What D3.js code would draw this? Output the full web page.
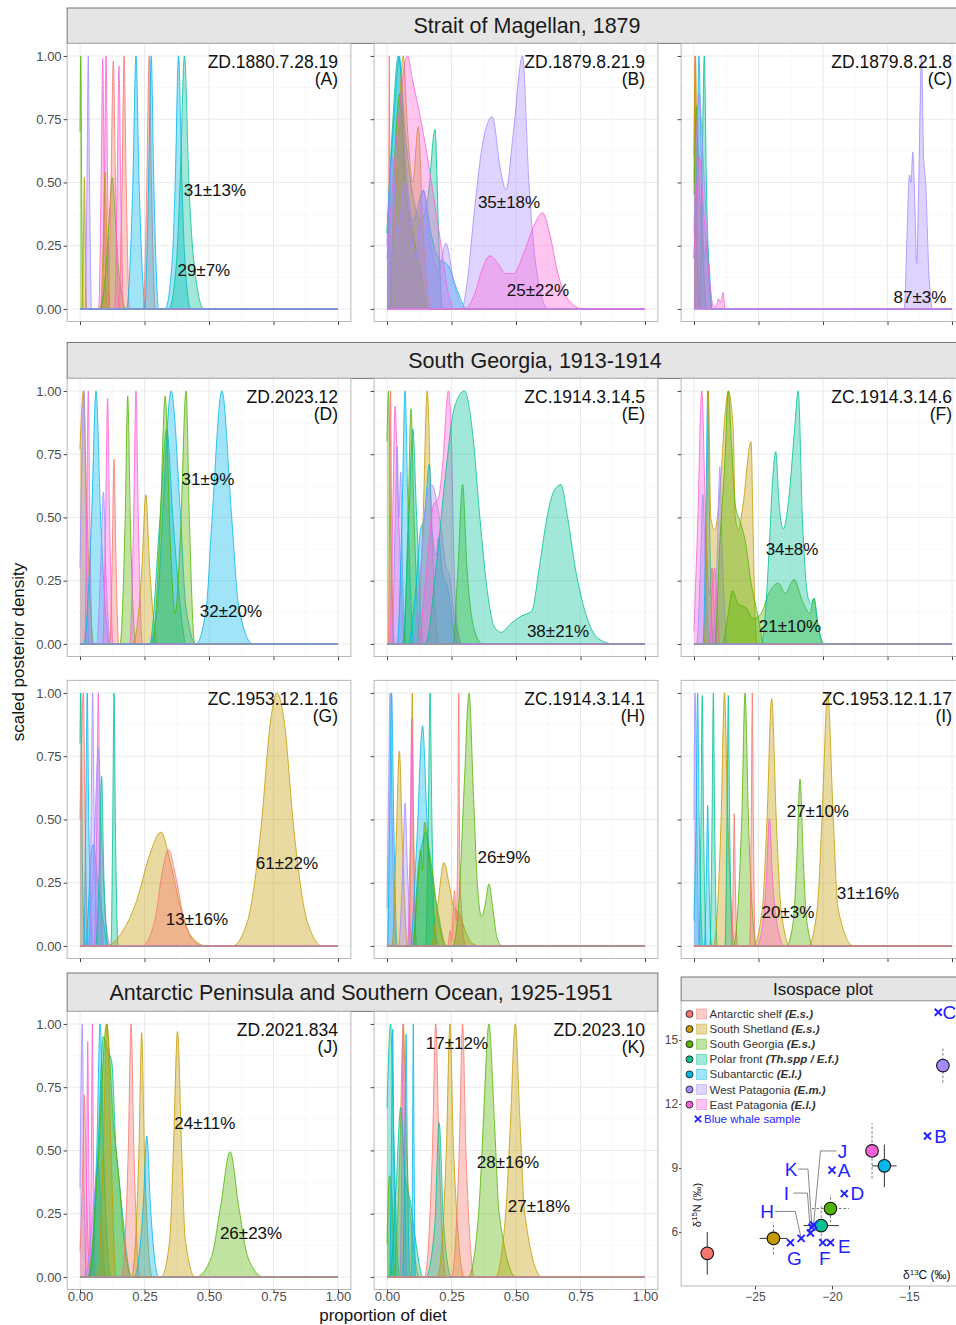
<!DOCTYPE html>
<html><head><meta charset="utf-8">
<script src="https://cdn.jsdelivr.net/npm/d3@7"></script>
<style>body{margin:0;background:#fff;} svg{display:block;font-family:"Liberation Sans",Arial,sans-serif;}</style>
</head><body><svg id="c" width="956" height="1325"></svg>
<script>
// ---------- DATA ----------
const sources = ["Antarctic shelf","South Shetland","South Georgia","Polar front","Subantarctic","West Patagonia","East Patagonia"];
const sourceAbbr = ["(E.s.)","(E.s.)","(E.s.)","(Th.spp / E.f.)","(E.l.)","(E.m.)","(E.l.)"];
const colors = ["#F8766D","#C49A00","#53B400","#00C094","#00B6EB","#A58AFF","#FB61D7"];
const propTicks = [0,0.25,0.5,0.75,1];
const propTickLabels = ["0.00","0.25","0.50","0.75","1.00"];
const groupTitles = ["Strait of Magellan, 1879","South Georgia, 1913-1914","Antarctic Peninsula and Southern Ocean, 1925-1951"];
const panelIds = ["ZD.1880.7.28.19","ZD.1879.8.21.9","ZD.1879.8.21.8","ZD.2023.12","ZC.1914.3.14.5","ZC.1914.3.14.6","ZC.1953.12.1.16","ZC.1914.3.14.1","ZC.1953.12.1.17","ZD.2021.834","ZD.2023.10"];
const panelLetters = ["A","B","C","D","E","F","G","H","I","J","K"];

// density curves: [source index, [[proportion, scaled density], ...]]
const densA = [
 [2,[[0,0.7],[0.003,1],[0.007,0.4],[0.012,0]]],
 [1,[[0.008,0],[0.013,0.25],[0.017,0.52],[0.021,0.25],[0.026,0]]],
 [5,[[0.02,0],[0.027,0.5],[0.032,1],[0.037,0.5],[0.045,0]]],
 [6,[[0.072,0],[0.082,0.5],[0.088,0.99],[0.094,0.5],[0.104,0]]],
 [6,[[0.086,0],[0.095,0.5],[0.101,1],[0.107,0.5],[0.116,0]]],
 [1,[[0.08,0],[0.09,0.27],[0.097,0.54],[0.104,0.27],[0.114,0]]],
 [2,[[0.075,0],[0.1,0.15],[0.11,0.3],[0.125,0.52],[0.14,0.3],[0.15,0.15],[0.18,0]]],
 [0,[[0.108,0],[0.12,0.49],[0.129,0.98],[0.138,0.49],[0.152,0]]],
 [6,[[0.133,0],[0.144,0.48],[0.151,0.96],[0.158,0.48],[0.17,0]]],
 [0,[[0.15,0],[0.163,0.5],[0.171,1],[0.179,0.5],[0.192,0]]],
 [4,[[0.18,0],[0.205,0.5],[0.217,1],[0.229,0.5],[0.255,0]]],
 [0,[[0.245,0],[0.259,0.5],[0.268,1],[0.277,0.5],[0.292,0]]],
 [4,[[0.25,0],[0.266,0.5],[0.276,1],[0.286,0.5],[0.305,0]]],
 [4,[[0.33,0],[0.358,0.2],[0.369,0.5],[0.382,1],[0.395,0.5],[0.406,0.2],[0.43,0]]],
 [3,[[0.345,0],[0.375,0.2],[0.388,0.5],[0.405,1],[0.422,0.5],[0.44,0.2],[0.48,0]]]
];
const densB = [
 [0,[[0.003,0],[0.007,0.5],[0.009,1],[0.011,0.5],[0.015,0]]],
 [3,[[0,0.3],[0.02,0.7],[0.044,1],[0.07,0.7],[0.1,0.45],[0.13,0.35],[0.16,0.45],[0.186,0.71],[0.2,0.3],[0.215,0]]],
 [4,[[0,0.3],[0.03,0.8],[0.048,1],[0.07,0.6],[0.1,0.35],[0.141,0.47],[0.17,0.3],[0.2,0.2],[0.238,0.17],[0.27,0.08],[0.31,0]]],
 [1,[[0.01,0],[0.04,0.6],[0.063,1],[0.08,0.7],[0.1,0.5],[0.121,0.72],[0.14,0.3],[0.17,0]]],
 [2,[[0.01,0],[0.03,0.6],[0.05,0.85],[0.07,0.5],[0.1,0.3],[0.13,0.15],[0.16,0]]],
 [6,[[0,0.2],[0.04,0.7],[0.079,1],[0.1,0.9],[0.14,0.7],[0.18,0.45],[0.21,0.25],[0.24,0.05],[0.26,0]]],
 [5,[[0,0.25],[0.02,0.6],[0.04,0.3],[0.07,0.5],[0.09,0.35],[0.11,0.2],[0.14,0.47],[0.17,0.25],[0.2,0.15],[0.228,0.26],[0.26,0.1],[0.3,0]]],
 [5,[[0.29,0],[0.31,0.1],[0.34,0.4],[0.37,0.65],[0.408,0.76],[0.44,0.55],[0.461,0.47],[0.49,0.7],[0.525,1],[0.55,0.5],[0.58,0.15],[0.625,0]]],
 [6,[[0.3,0],[0.34,0.06],[0.37,0.16],[0.399,0.21],[0.43,0.18],[0.46,0.14],[0.49,0.14],[0.53,0.22],[0.57,0.33],[0.603,0.38],[0.63,0.3],[0.66,0.15],[0.7,0.04],[0.76,0]]]
];
const densC = [
 [0,[[0,0.5],[0.004,1],[0.01,0.3],[0.02,0]]],
 [1,[[0,0.6],[0.006,1],[0.014,0.3],[0.025,0]]],
 [2,[[0,0.45],[0.01,0.8],[0.02,0.5],[0.035,0.2],[0.05,0]]],
 [4,[[0,0.2],[0.012,0.6],[0.019,1],[0.028,0.6],[0.04,0.2],[0.05,0.27],[0.06,0.15],[0.07,0]]],
 [3,[[0.02,0],[0.032,0.6],[0.04,1],[0.048,0.5],[0.06,0.1],[0.07,0]]],
 [5,[[0,0.3],[0.02,0.85],[0.035,0.6],[0.05,0.3],[0.065,0]]],
 [6,[[0,0.2],[0.02,0.6],[0.04,0.35],[0.06,0.12],[0.075,0.01],[0.085,0.01],[0.095,0.04],[0.102,0.025],[0.113,0.065],[0.12,0]]],
 [5,[[0.815,0],[0.826,0.3],[0.835,0.53],[0.841,0.5],[0.848,0.62],[0.855,0.45],[0.863,0.18],[0.872,0.55],[0.882,1],[0.89,0.6],[0.898,0.5],[0.91,0.15],[0.925,0]]]
];
const densD = [
 [1,[[0,0.77],[0.013,1],[0.025,0.6],[0.04,0.15],[0.055,0]]],
 [5,[[0,0.3],[0.016,1],[0.025,0.4],[0.035,0]]],
 [6,[[0.018,0],[0.026,0.5],[0.032,1],[0.038,0.5],[0.048,0]]],
 [4,[[0.015,0],[0.045,0.5],[0.062,1],[0.08,0.5],[0.115,0]]],
 [5,[[0.065,0],[0.08,0.3],[0.091,0.6],[0.1,0.3],[0.118,0]]],
 [6,[[0.088,0],[0.099,0.48],[0.107,0.97],[0.115,0.48],[0.128,0]]],
 [0,[[0.115,0],[0.125,0.36],[0.132,0.73],[0.139,0.36],[0.15,0]]],
 [2,[[0.155,0],[0.175,0.49],[0.185,0.98],[0.195,0.49],[0.217,0]]],
 [6,[[0.193,0],[0.208,0.5],[0.217,1],[0.226,0.5],[0.242,0]]],
 [1,[[0.205,0],[0.24,0.3],[0.255,0.59],[0.27,0.3],[0.305,0]]],
 [3,[[0.27,0],[0.31,0.5],[0.336,0.85],[0.36,0.5],[0.4,0.05],[0.41,0]]],
 [4,[[0.27,0],[0.3,0.15],[0.32,0.5],[0.353,1],[0.39,0.5],[0.41,0.15],[0.45,0]]],
 [2,[[0.28,0],[0.31,0.45],[0.33,0.98],[0.35,0.4],[0.369,0.12],[0.39,0.45],[0.411,1],[0.425,0.45],[0.445,0]]],
 [4,[[0.45,0],[0.49,0.15],[0.512,0.5],[0.55,1],[0.588,0.5],[0.615,0.15],[0.67,0]]]
];
const densE = [
 [2,[[0,0.8],[0.006,1],[0.015,0.4],[0.03,0]]],
 [0,[[0.005,0],[0.01,0.5],[0.014,1],[0.018,0.5],[0.025,0]]],
 [6,[[0.01,0],[0.022,0.5],[0.031,0.94],[0.045,0.5],[0.07,0]]],
 [5,[[0.02,0],[0.03,0.4],[0.04,0.78],[0.046,0.5],[0.053,0.68],[0.06,0.3],[0.075,0]]],
 [4,[[0.04,0],[0.058,0.5],[0.07,1],[0.082,0.5],[0.105,0]]],
 [2,[[0.065,0],[0.082,0.5],[0.093,0.93],[0.105,0.5],[0.13,0]]],
 [3,[[0.06,0],[0.085,0.5],[0.1,0.85],[0.115,0.5],[0.14,0]]],
 [1,[[0.115,0],[0.14,0.5],[0.156,1],[0.172,0.5],[0.2,0]]],
 [4,[[0.08,0],[0.11,0.2],[0.13,0.45],[0.145,0.5],[0.164,0.71],[0.175,0.45],[0.19,0.35],[0.2,0.42],[0.215,0.28],[0.235,0.22],[0.26,0.05],[0.28,0]]],
 [5,[[0.1,0],[0.13,0.3],[0.15,0.55],[0.173,0.63],[0.195,0.55],[0.21,0.45],[0.23,0.3],[0.24,0.28],[0.26,0.12],[0.29,0]]],
 [6,[[0.12,0],[0.15,0.25],[0.18,0.55],[0.2,0.58],[0.215,0.7],[0.238,1],[0.25,0.8],[0.26,0.3],[0.275,0.05],[0.29,0]]],
 [2,[[0.255,0],[0.275,0.3],[0.293,0.63],[0.31,0.3],[0.34,0.05],[0.37,0]]],
 [3,[[0.15,0],[0.19,0.3],[0.23,0.7],[0.26,0.93],[0.3,1],[0.33,0.85],[0.36,0.5],[0.39,0.2],[0.415,0.07],[0.442,0.046],[0.48,0.08],[0.52,0.11],[0.561,0.13],[0.59,0.3],[0.62,0.5],[0.645,0.6],[0.674,0.63],[0.7,0.5],[0.73,0.3],[0.77,0.12],[0.82,0.02],[0.88,0]]]
];
const densF = [
 [6,[[0,0.05],[0.015,0.5],[0.03,1],[0.045,0.5],[0.06,0.2],[0.07,0.3],[0.08,0.1],[0.09,0]]],
 [5,[[0.01,0],[0.025,0.3],[0.034,0.59],[0.045,0.3],[0.06,0]]],
 [4,[[0.035,0],[0.046,0.5],[0.053,1],[0.06,0.5],[0.075,0]]],
 [1,[[0.04,0],[0.05,0.5],[0.056,1],[0.065,0.5],[0.08,0.45],[0.1,0.6],[0.12,0.9],[0.133,1],[0.152,0.85],[0.16,0.5],[0.172,0.45],[0.19,0.55],[0.221,0.8],[0.23,0.4],[0.237,0.1],[0.245,0]]],
 [5,[[0.07,0],[0.09,0.35],[0.1,0.7],[0.11,0.35],[0.13,0]]],
 [6,[[0.06,0],[0.07,0.2],[0.08,0.3],[0.09,0.15],[0.1,0]]],
 [2,[[0.08,0],[0.1,0.4],[0.12,0.73],[0.133,1],[0.145,0.8],[0.16,0.55],[0.18,0.48],[0.2,0.4],[0.22,0.25],[0.25,0.1],[0.27,0]]],
 [2,[[0.11,0],[0.13,0.1],[0.149,0.21],[0.17,0.16],[0.204,0.14],[0.23,0.1],[0.26,0.12],[0.29,0.2],[0.327,0.24],[0.353,0.2],[0.388,0.255],[0.42,0.17],[0.45,0.12],[0.463,0.18],[0.48,0.08],[0.5,0]]],
 [3,[[0.26,0],[0.275,0.1],[0.29,0.35],[0.305,0.65],[0.317,0.76],[0.33,0.55],[0.346,0.455],[0.37,0.6],[0.39,0.85],[0.404,1],[0.42,0.5],[0.443,0.18],[0.455,0.16],[0.466,0.18],[0.48,0.08],[0.505,0]]]
];
const densG = [
 [3,[[0,0.8],[0.003,1],[0.01,0.3],[0.018,0]]],
 [0,[[0,0.5],[0.013,1],[0.02,0.5],[0.03,0]]],
 [4,[[0.015,0],[0.022,0.5],[0.028,1],[0.034,0.5],[0.05,0]]],
 [4,[[0.02,0],[0.05,0.4],[0.07,0.25],[0.09,0.1],[0.11,0]]],
 [5,[[0.035,0],[0.043,0.5],[0.049,1],[0.055,0.5],[0.07,0]]],
 [6,[[0.055,0],[0.065,0.5],[0.071,1],[0.077,0.5],[0.09,0]]],
 [5,[[0.03,0],[0.055,0.4],[0.071,0.78],[0.085,0.4],[0.1,0.1],[0.12,0]]],
 [3,[[0.06,0],[0.075,0.3],[0.084,0.67],[0.092,0.3],[0.11,0]]],
 [3,[[0.12,0],[0.127,0.5],[0.132,1],[0.137,0.5],[0.148,0]]],
 [1,[[0.1,0],[0.16,0.05],[0.22,0.18],[0.27,0.36],[0.314,0.45],[0.35,0.33],[0.39,0.15],[0.43,0.04],[0.49,0]]],
 [0,[[0.24,0],[0.29,0.1],[0.32,0.3],[0.343,0.38],[0.37,0.28],[0.4,0.12],[0.44,0.02],[0.48,0]]],
 [1,[[0.59,0],[0.65,0.1],[0.7,0.45],[0.74,0.9],[0.763,1],[0.79,0.9],[0.83,0.45],[0.88,0.1],[0.94,0]]]
];
const densH = [
 [5,[[0,0.15],[0.006,0.6],[0.012,1],[0.02,0.5],[0.035,0]]],
 [4,[[0.002,0],[0.01,0.5],[0.018,1],[0.026,0.5],[0.04,0]]],
 [1,[[0.02,0],[0.035,0.4],[0.048,0.77],[0.06,0.4],[0.08,0]]],
 [5,[[0.045,0],[0.06,0.28],[0.07,0.565],[0.08,0.28],[0.1,0]]],
 [1,[[0.085,0],[0.093,0.5],[0.098,1],[0.103,0.5],[0.115,0]]],
 [6,[[0.08,0],[0.09,0.45],[0.096,0.9],[0.102,0.45],[0.115,0]]],
 [4,[[0.09,0],[0.115,0.4],[0.138,0.87],[0.155,0.5],[0.175,0.2],[0.2,0]]],
 [3,[[0.1,0],[0.12,0.3],[0.135,0.4],[0.15,0.45],[0.17,0.3],[0.2,0.12],[0.23,0]]],
 [3,[[0.15,0],[0.16,0.5],[0.167,1],[0.174,0.5],[0.19,0]]],
 [2,[[0.1,0],[0.12,0.25],[0.13,0.38],[0.138,0.3],[0.145,0.49],[0.16,0.4],[0.175,0.3],[0.2,0.1],[0.23,0]]],
 [1,[[0.17,0],[0.195,0.15],[0.221,0.33],[0.24,0.25],[0.26,0.15],[0.28,0.13],[0.3,0.07],[0.33,0.01],[0.36,0]]],
 [0,[[0.235,0],[0.245,0.06],[0.25,0.02],[0.262,0.22],[0.268,0.1],[0.274,0.4],[0.278,1],[0.282,0.3],[0.288,0.16],[0.295,0.05],[0.305,0]]],
 [2,[[0.255,0],[0.28,0.2],[0.3,0.65],[0.318,1],[0.335,0.6],[0.35,0.25],[0.367,0.116],[0.38,0.16],[0.395,0.245],[0.41,0.15],[0.425,0.04],[0.445,0]]]
];
const densI = [
 [5,[[0,0.5],[0.004,1],[0.012,0.4],[0.02,0]]],
 [4,[[0,0.1],[0.008,0.5],[0.014,1],[0.02,0.5],[0.035,0]]],
 [3,[[0.02,0],[0.027,0.5],[0.032,0.99],[0.037,0.5],[0.048,0]]],
 [4,[[0.04,0],[0.048,0.28],[0.053,0.556],[0.058,0.28],[0.068,0]]],
 [3,[[0.062,0],[0.07,0.5],[0.075,1],[0.08,0.5],[0.09,0]]],
 [1,[[0.075,0],[0.105,0.5],[0.118,1],[0.131,0.5],[0.16,0]]],
 [3,[[0.12,0],[0.128,0.5],[0.133,0.99],[0.138,0.5],[0.15,0]]],
 [0,[[0.145,0],[0.152,0.26],[0.156,0.523],[0.16,0.26],[0.168,0]]],
 [2,[[0.152,0],[0.185,0.5],[0.198,1],[0.211,0.5],[0.243,0]]],
 [0,[[0.216,0],[0.222,0.5],[0.226,1],[0.23,0.5],[0.238,0]]],
 [1,[[0.23,0],[0.265,0.15],[0.283,0.5],[0.301,0.978],[0.319,0.5],[0.337,0.15],[0.372,0]]],
 [6,[[0.243,0],[0.268,0.1],[0.28,0.25],[0.292,0.503],[0.305,0.25],[0.32,0.1],[0.35,0]]],
 [2,[[0.359,0],[0.385,0.1],[0.398,0.33],[0.411,0.659],[0.424,0.33],[0.437,0.1],[0.463,0]]],
 [1,[[0.443,0],[0.478,0.15],[0.496,0.5],[0.518,1],[0.54,0.5],[0.558,0.15],[0.618,0]]]
];
const densJ = [
 [5,[[0,0.35],[0.009,1],[0.015,0.4],[0.025,0]]],
 [0,[[0,0.1],[0.01,0.4],[0.017,0.72],[0.025,0.35],[0.04,0]]],
 [6,[[0.02,0],[0.026,0.46],[0.03,0.93],[0.034,0.46],[0.042,0]]],
 [6,[[0.038,0],[0.044,0.5],[0.048,1],[0.052,0.5],[0.06,0]]],
 [5,[[0.02,0],[0.05,0.25],[0.07,0.45],[0.085,0.2],[0.1,0]]],
 [4,[[0.035,0],[0.065,0.5],[0.078,1],[0.091,0.5],[0.12,0]]],
 [3,[[0.04,0],[0.07,0.5],[0.09,0.95],[0.105,0.9],[0.123,0.85],[0.14,0.5],[0.15,0.4],[0.165,0.25],[0.18,0.1],[0.2,0]]],
 [2,[[0.03,0],[0.07,0.45],[0.103,1],[0.13,0.6],[0.15,0.4],[0.17,0.15],[0.2,0]]],
 [1,[[0.07,0],[0.09,0.5],[0.105,1],[0.12,0.5],[0.14,0]]],
 [0,[[0.16,0],[0.187,0.5],[0.198,1],[0.209,0.5],[0.232,0]]],
 [1,[[0.2,0],[0.228,0.48],[0.239,0.966],[0.25,0.48],[0.28,0]]],
 [4,[[0.21,0],[0.245,0.28],[0.259,0.557],[0.273,0.28],[0.305,0]]],
 [1,[[0.315,0],[0.348,0.15],[0.362,0.5],[0.378,0.97],[0.394,0.5],[0.408,0.15],[0.446,0]]],
 [2,[[0.45,0],[0.51,0.08],[0.545,0.28],[0.582,0.495],[0.615,0.28],[0.65,0.08],[0.71,0]]]
];
const densK = [
 [3,[[0,0.67],[0.014,1],[0.025,0.6],[0.04,0.1],[0.05,0]]],
 [2,[[0,0.13],[0.01,0.4],[0.02,0.3],[0.03,0]]],
 [4,[[0.01,0],[0.017,0.49],[0.022,0.98],[0.027,0.49],[0.038,0]]],
 [1,[[0.025,0],[0.05,0.5],[0.063,1],[0.076,0.5],[0.1,0.15],[0.128,0]]],
 [6,[[0.05,0],[0.058,0.5],[0.063,1],[0.068,0.5],[0.078,0]]],
 [4,[[0.06,0],[0.069,0.48],[0.074,0.96],[0.079,0.48],[0.09,0]]],
 [3,[[0.01,0],[0.035,0.35],[0.053,0.67],[0.07,0.4],[0.09,0.3],[0.11,0.15],[0.14,0]]],
 [4,[[0.095,0],[0.099,0.5],[0.102,1],[0.105,0.5],[0.11,0]]],
 [0,[[0.145,0],[0.176,0.5],[0.189,1],[0.202,0.5],[0.228,0]]],
 [3,[[0.15,0],[0.185,0.2],[0.202,0.61],[0.22,0.2],[0.25,0]]],
 [1,[[0.195,0],[0.23,0.5],[0.244,1],[0.258,0.5],[0.3,0]]],
 [0,[[0.25,0],[0.28,0.5],[0.293,1],[0.306,0.5],[0.34,0]]],
 [2,[[0.315,0],[0.355,0.25],[0.373,0.6],[0.395,1],[0.417,0.6],[0.435,0.25],[0.5,0]]],
 [1,[[0.42,0],[0.46,0.25],[0.478,0.6],[0.497,1],[0.516,0.6],[0.534,0.25],[0.6,0]]]
];
// percentage annotations: [text, proportion, density]
const labA = [["31±13%",0.523,0.47],["29±7%",0.48,0.154]];
const labB = [["35±18%",0.473,0.423],["25±22%",0.585,0.075]];
const labC = [["87±3%",0.876,0.047]];
const labD = [["31±9%",0.496,0.652],["32±20%",0.585,0.13]];
const labE = [["38±21%",0.663,0.05]];
const labF = [["34±8%",0.38,0.375],["21±10%",0.372,0.071]];
const labG = [["13±16%",0.453,0.107],["61±22%",0.802,0.328]];
const labH = [["26±9%",0.453,0.352]];
const labI = [["27±10%",0.48,0.534],["31±16%",0.674,0.21],["20±3%",0.364,0.134]];
const labJ = [["24±11%",0.484,0.609],["26±23%",0.663,0.174]];
const labK = [["17±12%",0.271,0.925],["28±16%",0.469,0.455],["27±18%",0.589,0.281]];

// isospace: source means and sd
const srcC13 = [-28.1,-23.8,-20.1,-20.7,-16.6,-12.8,-17.4];
const srcN15 = [5.0,5.7,7.1,6.3,9.1,13.8,9.8];
const srcSdC = [0,0.9,1.2,1.15,0.8,0,0];
const srcSdN = [1.0,0.75,0.65,0.9,1.0,0.8,1.3];
const srcDashC = [false,false,true,false,false,false,false];
const srcDashN = [false,true,true,true,false,true,true];
const whaleIds = ["A","B","C","D","E","F","G","H","I","J","K"];
const whaleC13 = [-20.0,-13.8,-13.1,-19.2,-20.1,-20.6,-22.7,-22.0,-21.4,-21.2,-21.3];
const whaleN15 = [8.9,10.5,16.3,7.8,5.5,5.5,5.5,5.7,5.95,6.33,6.23];
const isoXTicks = [-25,-20,-15];
const isoYTicks = [6,9,12,15];

// ---------- LAYOUT ----------
const svg = d3.select("#c");
const colLeft = [67.1, 374.1, 681.1];
const rowTop = [43.3, 378.3, 680.3, 1011.3];
const PW = 283.8, PH = 278.3;
const FILL_OP = 0.37;
const panels = [
 {d:densA,l:labA,c:0,r:0},{d:densB,l:labB,c:1,r:0},{d:densC,l:labC,c:2,r:0},
 {d:densD,l:labD,c:0,r:1},{d:densE,l:labE,c:1,r:1},{d:densF,l:labF,c:2,r:1},
 {d:densG,l:labG,c:0,r:2},{d:densH,l:labH,c:1,r:2},{d:densI,l:labI,c:2,r:2},
 {d:densJ,l:labJ,c:0,r:3},{d:densK,l:labK,c:1,r:3}
];

function strip(x0,y0,w,h,text,cx,fs){
  svg.append("rect").attr("x",x0).attr("y",y0).attr("width",w).attr("height",h)
    .attr("fill","#e5e5e5").attr("stroke","#555").attr("stroke-width",0.8);
  svg.append("text").attr("x",cx).attr("y",y0+h/2).attr("dy","0.35em").attr("text-anchor","middle")
    .attr("font-size",fs).attr("fill","#1a1a1a").text(text);
}
strip(67.1,8,990,35.3,groupTitles[0],527,21.5);
strip(67.1,342.5,990,35.8,groupTitles[1],535,21.5);
strip(67.1,973,590.8,38.3,groupTitles[2],361,21.5);

const defs = svg.append("defs");
panels.forEach((p,i)=>{
  const L = colLeft[p.c], T = rowTop[p.r];
  const x = d3.scaleLinear().domain([-0.05,1.05]).range([L, L+PW]);
  const y = d3.scaleLinear().domain([-0.05,1.05]).range([T+PH, T]);
  const g = svg.append("g");
  g.append("rect").attr("x",L).attr("y",T).attr("width",PW).attr("height",PH).attr("fill","#fff");
  const minor = [0.125,0.375,0.625,0.875];
  minor.forEach(v=>{
    g.append("line").attr("x1",x(v)).attr("x2",x(v)).attr("y1",T).attr("y2",T+PH).attr("stroke","#f2f2f2").attr("stroke-width",0.5);
    g.append("line").attr("y1",y(v)).attr("y2",y(v)).attr("x1",L).attr("x2",L+PW).attr("stroke","#f2f2f2").attr("stroke-width",0.5);
  });
  propTicks.forEach(v=>{
    g.append("line").attr("x1",x(v)).attr("x2",x(v)).attr("y1",T).attr("y2",T+PH).attr("stroke","#e8e8e8").attr("stroke-width",0.9);
    g.append("line").attr("y1",y(v)).attr("y2",y(v)).attr("x1",L).attr("x2",L+PW).attr("stroke","#e8e8e8").attr("stroke-width",0.9);
  });
  const cid = "clip"+i;
  defs.append("clipPath").attr("id",cid).append("rect").attr("x",L).attr("y",T).attr("width",PW).attr("height",PH);
  const dg = g.append("g").attr("clip-path",`url(#${cid})`);
  const area = d3.area().x(d=>x(d[0])).y0(y(0)).y1(d=>y(d[1])).curve(d3.curveMonotoneX);
  const line = d3.line().x(d=>x(d[0])).y(d=>y(d[1])).curve(d3.curveMonotoneX);
  p.d.forEach(cv=>{
    const pts = cv[1].slice();
    if (pts[0][0] > 0) pts.unshift([0,0]);
    if (pts[pts.length-1][0] < 1) pts.push([1,0]);
    dg.append("path").attr("d",area(pts)).attr("fill",colors[cv[0]]).attr("fill-opacity",FILL_OP);
    dg.append("path").attr("d",line(pts)).attr("fill","none").attr("stroke",colors[cv[0]]).attr("stroke-width",0.8);
  });
  // baseline drawn by the last (pink/purple) groups in the original
  dg.append("line").attr("x1",x(0)).attr("x2",x(1)).attr("y1",y(0)).attr("y2",y(0)).attr("stroke","#D77BEA").attr("stroke-width",1);
  g.append("rect").attr("x",L).attr("y",T).attr("width",PW).attr("height",PH).attr("fill","none").attr("stroke","#a6a6a6").attr("stroke-width",0.8);
  const ax = g.append("g").attr("transform",`translate(0,${T+PH})`)
    .call(d3.axisBottom(x).tickValues(propTicks).tickSize(3.5).tickFormat((d,k)=> p.r===3 ? propTickLabels[k] : ""));
  const ay = g.append("g").attr("transform",`translate(${L},0)`)
    .call(d3.axisLeft(y).tickValues(propTicks).tickSize(3.5).tickPadding(2).tickFormat((d,k)=> p.c===0 ? propTickLabels[k] : ""));
  [ax,ay].forEach(a=>{
    a.select(".domain").remove();
    a.selectAll("line").attr("stroke","#444");
    a.selectAll("text").attr("font-size",13).attr("fill","#4d4d4d").attr("font-family","Liberation Sans, Arial, sans-serif");
  });
  ax.selectAll("text").attr("y",6).attr("dy","0.38em");
  g.append("text").attr("x",x(1)).attr("y",T+25).attr("text-anchor","end").attr("font-size",17.5).attr("fill","#111").text(panelIds[i]);
  g.append("text").attr("x",x(1)).attr("y",T+42).attr("text-anchor","end").attr("font-size",17.5).attr("fill","#111").text("("+panelLetters[i]+")");
  p.l.forEach(lb=>{
    g.append("text").attr("x",x(lb[1])).attr("y",y(lb[2])).attr("dy","0.35em").attr("text-anchor","middle")
      .attr("font-size",17).attr("fill","#111").text(lb[0]);
  });
});

svg.append("text").attr("x",383).attr("y",1321).attr("text-anchor","middle").attr("font-size",17).attr("fill","#111").text("proportion of diet");
svg.append("text").attr("transform","translate(24,652) rotate(-90)").attr("text-anchor","middle").attr("font-size",17).attr("fill","#111").text("scaled posterior density");

// ---------- ISOSPACE ----------
strip(681.1,977,320,24,"Isospace plot",823,17);
const IL=681.1, IT=1001, IB=1286;
svg.append("rect").attr("x",IL).attr("y",IT).attr("width",320).attr("height",IB-IT).attr("fill","#fff").attr("stroke","#a6a6a6").attr("stroke-width",0.8);
const ix = d3.scaleLinear().domain([-25,-15]).range([755,909]);
const iy = d3.scaleLinear().domain([6,15]).range([1232,1040]);
const iax = svg.append("g").attr("transform",`translate(0,${IB})`).call(d3.axisBottom(ix).tickValues(isoXTicks).tickSize(3.5));
const iay = svg.append("g").attr("transform",`translate(${IL},0)`).call(d3.axisLeft(iy).tickValues(isoYTicks).tickSize(2));
[iax,iay].forEach(a=>{
  a.select(".domain").remove();
  a.selectAll("line").attr("stroke","#444");
  a.selectAll("text").attr("font-size",12).attr("fill","#4d4d4d").attr("font-family","Liberation Sans, Arial, sans-serif");
});
iay.selectAll("text").attr("x",-3);
const eg = svg.append("g");
sources.forEach((s,i)=>{
  const cx = ix(srcC13[i]), cy = iy(srcN15[i]);
  if (srcSdN[i]>0) eg.append("line").attr("x1",cx).attr("x2",cx).attr("y1",iy(srcN15[i]-srcSdN[i])).attr("y2",iy(srcN15[i]+srcSdN[i]))
    .attr("stroke",srcDashN[i]?"#777":"#333").attr("stroke-width",1).attr("stroke-dasharray",srcDashN[i]?"2.5,2":null);
  if (srcSdC[i]>0) eg.append("line").attr("y1",cy).attr("y2",cy).attr("x1",ix(srcC13[i]-srcSdC[i])).attr("x2",ix(srcC13[i]+srcSdC[i]))
    .attr("stroke",srcDashC[i]?"#777":"#333").attr("stroke-width",1).attr("stroke-dasharray",srcDashC[i]?"2.5,2":null);
});
const blue = "#2323ff";
const labelOff = {A:[12,0],B:[13,0],C:[11,0],D:[13,0],E:[14,3],F:[2,15],G:[4,15],H:[-34,-27],I:[-24,-40],J:[29,-74],K:[-21,-58]};
const leaderElbow = {H:[-6,8],I:[-3,7],K:[-4,7],J:[7,-6]};
whaleIds.forEach((w,i)=>{
  if (!leaderElbow[w]) return;
  const px = ix(whaleC13[i]), py = iy(whaleN15[i]);
  const lx = px+labelOff[w][0], ly = py+labelOff[w][1];
  const e = leaderElbow[w];
  svg.append("polyline").attr("points",`${lx+e[1]},${ly} ${px+e[0]},${ly} ${px},${py}`)
    .attr("fill","none").attr("stroke","#666").attr("stroke-width",0.8);
});
sources.forEach((s,i)=>{
  svg.append("circle").attr("cx",ix(srcC13[i])).attr("cy",iy(srcN15[i])).attr("r",6.3)
    .attr("fill",colors[i]).attr("stroke","#111").attr("stroke-width",1.1);
});
function cross(cx,cy,r,sw){
  svg.append("path").attr("d",`M${cx-r},${cy-r}L${cx+r},${cy+r}M${cx-r},${cy+r}L${cx+r},${cy-r}`)
    .attr("stroke",blue).attr("stroke-width",sw).attr("fill","none");
}
whaleIds.forEach((w,i)=>{
  const px = ix(whaleC13[i]), py = iy(whaleN15[i]);
  cross(px,py,3.5,2);
  svg.append("text").attr("x",px+labelOff[w][0]).attr("y",py+labelOff[w][1]).attr("dy","0.36em").attr("text-anchor","middle")
    .attr("font-size",19).attr("fill",blue).text(w);
});
sources.forEach((s,i)=>{
  const ly = 1014 + i*15.1;
  svg.append("circle").attr("cx",689.5).attr("cy",ly).attr("r",3.5).attr("fill",colors[i]).attr("stroke","#111").attr("stroke-width",0.8);
  svg.append("rect").attr("x",696.5).attr("y",ly-5).attr("width",10).attr("height",10).attr("fill",colors[i]).attr("fill-opacity",FILL_OP).attr("stroke",colors[i]).attr("stroke-opacity",0.5).attr("stroke-width",0.8);
  const t = svg.append("text").attr("x",709.5).attr("y",ly).attr("dy","0.35em").attr("font-size",11.5).attr("fill","#333");
  t.append("tspan").text(s+" ");
  t.append("tspan").attr("font-weight","bold").attr("font-style","italic").text(sourceAbbr[i]);
});
cross(698,1119,3.2,1.8);
svg.append("text").attr("x",704).attr("y",1119).attr("dy","0.35em").attr("font-size",11.5).attr("fill",blue).text("Blue whale sample");
const tn = svg.append("text").attr("transform","translate(701,1205) rotate(-90)").attr("text-anchor","middle").attr("font-size",11).attr("fill","#111");
tn.append("tspan").text("δ");
tn.append("tspan").attr("font-size",8).attr("dy",-4).text("15");
tn.append("tspan").attr("dy",4).text("N (‰)");
const tc = svg.append("text").attr("x",903).attr("y",1279).attr("font-size",12).attr("fill","#111");
tc.append("tspan").text("δ");
tc.append("tspan").attr("font-size",8).attr("dy",-4).text("13");
tc.append("tspan").attr("dy",4).text("C (‰)");
</script></body></html>
